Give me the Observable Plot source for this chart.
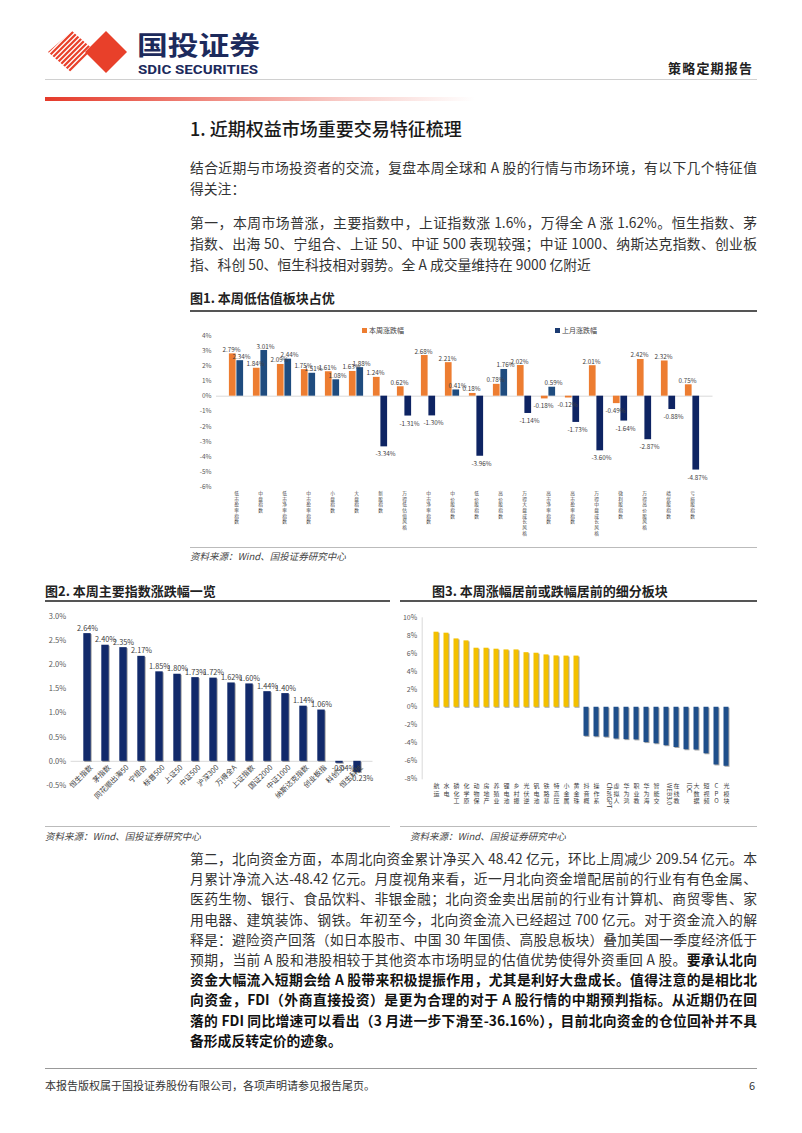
<!DOCTYPE html>
<html><head><meta charset="utf-8">
<script src="https://cdn.jsdelivr.net/npm/d3@7"></script>
<script src="https://cdn.jsdelivr.net/npm/@observablehq/plot@0.6"></script>
<style>
body{margin:0;width:802px;height:1133px;position:relative;background:#fff;font-family:"Noto Sans CJK SC","Noto Sans",sans-serif;overflow:hidden}
.abs{position:absolute}
.tl{position:absolute;left:190px;width:567px;font-size:13.8px;color:#333;line-height:20px;height:20px;text-align:justify;text-align-last:justify;white-space:normal}
.tl.last{text-align-last:left}
.tl b{color:#111}
.ttl{position:absolute;font-size:13px;font-weight:bold;color:#222;line-height:16px}
.rule{position:absolute;height:0}
.src{position:absolute;font-size:9.5px;font-style:italic;color:#444;line-height:12px}
.leg{position:absolute;font-size:7px;color:#444;line-height:9px}
.leg i{display:inline-block;width:5px;height:5px;margin-right:2px;vertical-align:0px}
#c2 g[aria-label="bar"] rect,#c3 g[aria-label="bar"] rect{filter:drop-shadow(1px 1px 0.6px rgba(0,0,0,0.35))}
</style></head>
<body>
<!-- header -->
<svg class="abs" style="left:40px;top:25px" width="230" height="55">
  <defs><clipPath id="lc"><polygon points="32,6 56,27 32,48 8,27"/></clipPath></defs>
  <g clip-path="url(#lc)" stroke="#e8402a" stroke-width="2.2">
    <line x1="0" y1="20" x2="30" y2="-10"/><line x1="0" y1="25" x2="35" y2="-10"/>
    <line x1="0" y1="30" x2="40" y2="-10"/><line x1="0" y1="35" x2="45" y2="-10"/>
    <line x1="0" y1="40" x2="50" y2="-10"/><line x1="0" y1="45" x2="55" y2="-10"/>
    <line x1="0" y1="50" x2="60" y2="-10"/><line x1="0" y1="55" x2="65" y2="-10"/>
    <line x1="0" y1="60" x2="70" y2="-10"/><line x1="0" y1="65" x2="75" y2="-10"/>
    <line x1="0" y1="70" x2="80" y2="-10"/><line x1="0" y1="75" x2="85" y2="-10"/>
  </g>
  <polygon points="66,6 87,27 66,48 45,27" fill="#e8402a"/>
  <text x="97" y="30" font-family="Noto Sans CJK SC" font-size="26" font-weight="bold" fill="#1c2a5c" textLength="123" lengthAdjust="spacingAndGlyphs">国投证券</text>
  <text x="98" y="49" font-family="Roboto" font-size="13.5" font-weight="bold" fill="#1c2a5c" textLength="120" lengthAdjust="spacingAndGlyphs">SDIC SECURITIES</text>
</svg>
<div class="abs" style="left:668px;top:60px;font-size:13px;font-weight:bold;color:#222;letter-spacing:1.2px;line-height:16px">策略定期报告</div>
<div class="rule" style="left:45px;top:79px;width:712px;border-top:1px solid #d0d0d0"></div>
<div class="abs" style="left:45px;top:97px;width:430px;height:4px;background:linear-gradient(to right,#e53a2a,rgba(229,58,42,0.25) 70%,rgba(255,255,255,0))"></div>

<div class="abs" style="left:190px;top:116px;font-size:18px;font-weight:500;color:#1a1a1a;line-height:24px">1. 近期权益市场重要交易特征梳理</div>

<div class="tl" style="top:157px">结合近期与市场投资者的交流，复盘本周全球和 A 股的行情与市场环境，有以下几个特征值</div>
<div class="tl last" style="top:178px">得关注：</div>

<div class="tl" style="top:212px">第一，本周市场普涨，主要指数中，上证指数涨 1.6%，万得全 A 涨 1.62%。恒生指数、茅</div>
<div class="tl" style="top:233px">指数、出海 50、宁组合、上证 50、中证 500 表现较强；中证 1000、纳斯达克指数、创业板</div>
<div class="tl last" style="top:254px">指、科创 50、恒生科技相对弱势。全 A 成交量维持在 9000 亿附近</div>

<div class="ttl" style="left:190px;top:290px">图1. 本周低估值板块占优</div>
<div class="rule" style="left:190px;top:310px;width:567px;border-top:2px solid #555"></div>
<div id="c1" class="abs" style="left:190px;top:318px"></div>
<div class="leg" style="left:362px;top:326px"><i style="background:#ED7D31"></i>本周涨跌幅</div>
<div class="leg" style="left:555px;top:326px"><i style="background:#1c3b72"></i>上月涨跌幅</div>
<div class="rule" style="left:190px;top:547px;width:567px;border-top:1px solid #bbb"></div>
<div class="src" style="left:190px;top:550px">资料来源：Wind、国投证券研究中心</div>

<div class="ttl" style="left:45px;top:583px">图2. 本周主要指数涨跌幅一览</div>
<div class="rule" style="left:45px;top:600px;width:345px;border-top:2px solid #555"></div>
<div class="ttl" style="left:432px;top:583px">图3. 本周涨幅居前或跌幅居前的细分板块</div>
<div class="rule" style="left:400px;top:600px;width:357px;border-top:2px solid #555"></div>
<div id="c2" class="abs" style="left:45px;top:605px"></div>
<div id="c3" class="abs" style="left:400px;top:605px"></div>
<div class="rule" style="left:45px;top:826px;width:345px;border-top:1px solid #bbb"></div>
<div class="rule" style="left:400px;top:826px;width:357px;border-top:1px solid #bbb"></div>
<div class="src" style="left:45px;top:830px">资料来源：Wind、国投证券研究中心</div>
<div class="src" style="left:410px;top:830px">资料来源：Wind、国投证券研究中心</div>

<div class="tl" style="top:848px">第二，北向资金方面，本周北向资金累计净买入 48.42 亿元，环比上周减少 209.54 亿元。本</div>
<div class="tl" style="top:868px">月累计净流入达-48.42 亿元。月度视角来看，近一月北向资金增配居前的行业有有色金属、</div>
<div class="tl" style="top:888px">医药生物、银行、食品饮料、非银金融；北向资金卖出居前的行业有计算机、商贸零售、家</div>
<div class="tl" style="top:909px">用电器、建筑装饰、钢铁。年初至今，北向资金流入已经超过 700 亿元。对于资金流入的解</div>
<div class="tl" style="top:929px">释是：避险资产回落（如日本股市、中国 30 年国债、高股息板块）叠加美国一季度经济低于</div>
<div class="tl" style="top:949px">预期，当前 A 股和港股相较于其他资本市场明显的估值优势使得外资重回 A 股。<b>要承认北向</b></div>
<div class="tl" style="top:969px"><b>资金大幅流入短期会给 A 股带来积极提振作用，尤其是利好大盘成长。值得注意的是相比北</b></div>
<div class="tl" style="top:989px"><b>向资金，FDI（外商直接投资）是更为合理的对于 A 股行情的中期预判指标。从近期仍在回</b></div>
<div class="tl" style="top:1010px"><b>落的 FDI 同比增速可以看出（3 月进一步下滑至-36.16%），目前北向资金的仓位回补并不具</b></div>
<div class="tl last" style="top:1030px"><b>备形成反转定价的迹象。</b></div>

<div class="rule" style="left:45px;top:1068px;width:712px;border-top:1px solid #999"></div>
<div class="abs" style="left:45px;top:1078px;font-size:11px;color:#333;line-height:14px">本报告版权属于国投证券股份有限公司，各项声明请参见报告尾页。</div>
<div class="abs" style="left:749px;top:1078px;font-size:11px;color:#333;line-height:14px">6</div>

<script>
// ---------- data ----------
const c1Labels = ["低市盈率指数","中盘指数","低市净率指数","中市盈率指数","小盘指数","大盘指数","新股指数","万得低估值风格","中市净率指数","中价股指数","低价股指数","高价股指数","万得大盘成长风格","高市净率指数","高市盈率指数","万得中盘成长风格","微利股指数","万得高价股风格","绩优股指数","亏损股指数"];
const c1Week = [2.79,1.84,2.09,1.75,1.61,1.63,1.24,0.62,2.68,2.21,0.18,0.78,2.02,-0.18,-0.12,2.01,-0.49,2.42,2.32,0.75];
const c1Month = [2.34,3.01,2.44,1.51,1.08,1.88,-3.34,-1.31,-1.30,0.41,-3.96,1.76,-1.14,0.59,-1.73,-3.60,-1.64,-2.87,-0.88,-4.87];
const c1Series = ["本周涨跌幅","上月涨跌幅"];
const c1Ticks = [-6,-5,-4,-3,-2,-1,0,1,2,3,4];

const c2Labels = ["恒生指数","茅指数","同花顺出海50","宁组合","标普500","上证50","中证500","沪深300","万得全A","上证指数","国证2000","中证1000","纳斯达克指数","创业板指","科创50","恒生科技"];
const c2Values = [2.64,2.40,2.35,2.17,1.85,1.80,1.73,1.72,1.62,1.60,1.44,1.40,1.14,1.06,-0.04,-0.23];
const c2Ticks = [-0.5,0,0.5,1.0,1.5,2.0,2.5,3.0];

const c3Labels = ["航运","水电","磷化工","化学原料药","动物保健","房地产","养殖业","锂电池","乡村振兴","光伏逆变器","钒电池","铁路基建","特高压","小金属","黄金珠宝","抖音概念","操作系统","ChatGPT","虚拟人","华为鸿蒙","职业教育","华为海思","智能交通","WEB3.0","在线教育","IDC","大数据","短视频","CPO概念","光模块"];
const c3Values = [8.39,8.28,7.64,7.42,6.60,6.60,6.49,6.41,6.41,6.10,6.04,5.85,5.74,5.72,5.72,-3.25,-3.30,-3.35,-3.55,-3.62,-3.65,-3.95,-4.08,-4.30,-4.50,-4.75,-4.78,-5.20,-6.45,-6.60];
const c3Ticks = [-8,-6,-4,-2,0,2,4,6,8,10];

// ---------- styles ----------
const FONT = '"Noto Sans CJK SC","Noto Sans",sans-serif';
const ORANGE = "#ED7D31", NAVY_POS = "#1f4c7f", NAVY_NEG = "#0e2463";
const BAR2 = "#122a6b", YEL = "#f3c000", BLUE3 = "#1f4f8b";
const pct2 = d => d.toFixed(2) + "%";

// ---------- chart 1 ----------
const rows1 = c1Labels.flatMap((c, i) => [
  {c, s: c1Series[0], v: c1Week[i]},
  {c, s: c1Series[1], v: c1Month[i]}
]);
const wk = rows1.filter(d => d.s === c1Series[0]);
const mo = rows1.filter(d => d.s === c1Series[1]);
const lbl1 = (data, dx, pos) => Plot.text(data.filter(d => pos ? d.v >= 0 : d.v < 0), {
  x: "c", y: "v", text: d => pct2(d.v), dx, dy: pos ? -2 : 5,
  lineAnchor: pos ? "bottom" : "top", fontSize: 6.3, fill: "#404040"
});
const chart1 = Plot.plot({
  width: 567, height: 227,
  marginLeft: 26, marginRight: 44.5, marginTop: 17, marginBottom: 58.3,
  style: {fontFamily: FONT, fontSize: "6.5px", color: "#595959", background: "transparent", overflow: "visible"},
  color: {type: "identity"},
  x: {domain: c1Labels, padding: 0, axis: null},
  y: {domain: [-6, 4], ticks: c1Ticks, tickFormat: d => d + "%", tickSize: 0, tickPadding: 5, label: null},
  marks: [
    Plot.ruleY([0], {stroke: "#d9d9d9"}),
    Plot.barY(wk, {x: "c", y: "v", fill: ORANGE, insetLeft: 4.9, insetRight: 12.4}),
    Plot.barY(mo, {x: "c", y: "v", fill: d => d.v >= 0 ? NAVY_POS : NAVY_NEG, insetLeft: 12.4, insetRight: 4.9}),
    lbl1(wk, -5, true), lbl1(wk, -5, false),
    lbl1(mo, 5, true), lbl1(mo, 5, false),
    Plot.text(c1Labels, {x: d => d, text: d => d.split("").join("\n"), frameAnchor: "bottom",
      lineAnchor: "top", dy: 4, lineHeight: 1.2, fontSize: 4.7, fill: "#444"})
  ]
});
document.getElementById("c1").appendChild(chart1);

// ---------- chart 2 ----------
const rows2 = c2Labels.map((c, i) => ({c, v: c2Values[i]}));
const chart2 = Plot.plot({
  width: 345, height: 220,
  marginLeft: 25.6, marginRight: 17.5, marginTop: 10.7, marginBottom: 40,
  style: {fontFamily: FONT, fontSize: "7.5px", color: "#595959", background: "transparent", overflow: "visible"},
  x: {domain: c2Labels, padding: 0, axis: null},
  y: {domain: [-0.5, 3.0], ticks: c2Ticks, tickFormat: d => d.toFixed(1) + "%", tickSize: 0, tickPadding: 5, label: null},
  marks: [
    Plot.ruleY([0], {stroke: "#d9d9d9"}),
    Plot.barY(rows2, {x: "c", y: "v", fill: BAR2, insetLeft: 5.3, insetRight: 5.3}),
    Plot.text(rows2.filter(d => d.v >= 0), {x: "c", y: "v", text: d => pct2(d.v), dy: -3, lineAnchor: "bottom", fontSize: 7.3, fill: "#404040"}),
    Plot.text(rows2.filter(d => d.v < 0), {x: "c", y: "v", text: d => pct2(d.v), dy: 3, dx: 4, lineAnchor: "top", fontSize: 7.3, fill: "#404040"}),
    Plot.text(rows2, {x: "c", y: () => 0, text: "c", rotate: -45, textAnchor: "end", dx: 4, dy: 5, fontSize: 7.3, fill: "#404040"})
  ]
});
document.getElementById("c2").appendChild(chart2);

// ---------- chart 3 ----------
const rows3 = c3Labels.map((c, i) => ({c, v: c3Values[i]}));
const isAscii = s => /^[\x00-\x7f]+$/.test(s);
const chart3 = Plot.plot({
  width: 357, height: 220,
  marginLeft: 21.7, marginRight: 16.7, marginTop: 12.3, marginBottom: 46.7,
  style: {fontFamily: FONT, fontSize: "7px", color: "#595959", background: "transparent", overflow: "visible"},
  color: {type: "identity"},
  x: {domain: c3Labels, padding: 0, axis: null},
  y: {domain: [-8, 10], ticks: c3Ticks, tickFormat: d => d + "%", tickSize: 0, tickPadding: 5, label: null},
  marks: [
    Plot.frame({anchor: "left", stroke: "#d9d9d9"}),
    Plot.barY(rows3, {x: "c", y: "v", fill: d => d.v >= 0 ? YEL : BLUE3, insetLeft: 2.5, insetRight: 2.5}),
    Plot.text(rows3.filter(d => !isAscii(d.c)), {x: "c", text: d => d.c.slice(0, 3).split("").join("\n"),
      frameAnchor: "bottom", lineAnchor: "top", dy: 4, lineHeight: 1.25, fontSize: 6, fill: "#404040"}),
    Plot.text(rows3.filter(d => isAscii(d.c)), {x: "c", text: "c", frameAnchor: "bottom",
      rotate: 90, textAnchor: "start", dy: 4, fontSize: 6.3, fill: "#404040"})
  ]
});
document.getElementById("c3").appendChild(chart3);
</script>
</body></html>
